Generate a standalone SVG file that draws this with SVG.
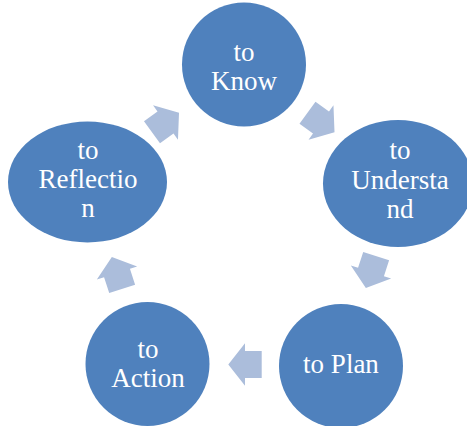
<svg xmlns="http://www.w3.org/2000/svg" xmlns:xlink="http://www.w3.org/1999/xlink" width="467" height="426" viewBox="0 0 467 426">
  <style>
    .node { fill: #4F81BD; }
    .lbl { fill: #FFFFFF; font-family: "Liberation Serif", "Times New Roman", serif; font-size: 27px; text-anchor: middle; }
    .arrow { fill: #ABBDDB; }
  </style>
  <defs>
    <path id="blockArrow" d="M-16.7,-13.6 H0 V-21.2 L16.7,0 L0,21.2 V13.6 H-16.7 Z"/>
  </defs>
  <rect width="467" height="426" fill="#FFFFFF"/>
  <g id="connectors">
    <use xlink:href="#blockArrow" class="arrow" transform="translate(165.5,122.5) rotate(-36)"/>
    <use xlink:href="#blockArrow" class="arrow" transform="translate(321,122.5) rotate(36)"/>
    <use xlink:href="#blockArrow" class="arrow" transform="translate(371,272) rotate(108)"/>
    <use xlink:href="#blockArrow" class="arrow" transform="translate(245,364.5) rotate(180)"/>
    <use xlink:href="#blockArrow" class="arrow" transform="translate(117,273) rotate(252)"/>
  </g>
  <g id="node-know">
    <circle class="node" cx="244" cy="64.5" r="62"/>
    <text class="lbl" x="244" y="61">to</text>
    <text class="lbl" x="244" y="90">Know</text>
  </g>
  <g id="node-understand">
    <ellipse class="node" cx="398" cy="183.5" rx="75" ry="63.5"/>
    <text class="lbl" x="400" y="159">to</text>
    <text class="lbl" x="400" y="189">Understa</text>
    <text class="lbl" x="400" y="218">nd</text>
  </g>
  <g id="node-plan">
    <circle class="node" cx="341" cy="366" r="62"/>
    <text class="lbl" x="341" y="373">to Plan</text>
  </g>
  <g id="node-action">
    <circle class="node" cx="147.5" cy="364" r="62"/>
    <text class="lbl" x="148" y="358">to</text>
    <text class="lbl" x="148" y="387">Action</text>
  </g>
  <g id="node-reflection">
    <ellipse class="node" cx="87.5" cy="182" rx="79.5" ry="60.5"/>
    <text class="lbl" x="88" y="159">to</text>
    <text class="lbl" x="88" y="188">Reflectio</text>
    <text class="lbl" x="88" y="217">n</text>
  </g>
</svg>
